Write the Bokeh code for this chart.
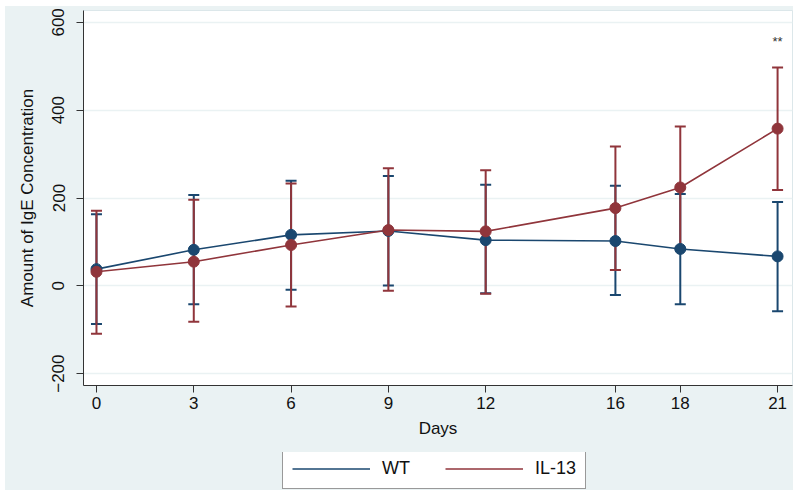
from bokeh.plotting import figure
from bokeh.layouts import column
from bokeh.models import (Range1d, Whisker, TeeHead, ColumnDataSource, Legend,
                          LegendItem, FixedTicker)
from bokeh.embed import file_html
from bokeh.resources import INLINE
from bokeh.core.properties import value

days = [0, 3, 6, 9, 12, 16, 18, 21]
wt_mean = [38, 82, 116, 125, 104, 102, 84, 67]
wt_upper = [163, 207, 239, 250, 230, 228, 209, 191]
wt_lower = [-87, -42, -9, 1, -17, -21, -42, -58]
il13_mean = [32, 55, 93, 127, 124, 177, 224, 358]
il13_upper = [171, 196, 233, 268, 263, 317, 363, 497]
il13_lower = [-109, -82, -47, -11, -18, 36, 85, 218]
y_ticks = [-200, 0, 200, 400, 600]
x_ticks = days
sig_day = [21]
sig_top = [il13_upper[-1]]
sig_text = ["**"]
series_names = ["WT", "IL-13"]

NAVY = "#1A476F"
MAROON = "#90353B"
BG = "#EAF2F3"
FONT = "Liberation Sans"

p = figure(width=788, height=446, output_backend="svg", toolbar_location=None,
           x_range=Range1d(-0.4, 21.46), y_range=Range1d(-227, 627),
           min_border_left=78, min_border_right=1, min_border_top=4,
           min_border_bottom=67)
p.background_fill_color = "white"
p.border_fill_color = BG
p.outline_line_color = "#DCE7EA"

p.xgrid.visible = False
p.ygrid.grid_line_color = BG
p.ygrid.grid_line_width = 1.5

for ax in (p.xaxis[0], p.yaxis[0]):
    ax.axis_line_color = "#333333"
    ax.major_tick_line_color = "#333333"
    ax.major_tick_out = 7
    ax.major_tick_in = 0
    ax.minor_tick_line_color = None
    ax.major_label_text_font = FONT
    ax.major_label_text_font_size = "17px"
    ax.major_label_text_color = "#111111"
    ax.axis_label_text_font = FONT
    ax.axis_label_text_font_size = "17px"
    ax.axis_label_text_font_style = "normal"
    ax.axis_label_text_color = "#111111"

p.xaxis.ticker = FixedTicker(ticks=x_ticks)
p.yaxis.ticker = FixedTicker(ticks=y_ticks)
p.xaxis.axis_label = "Days"
p.yaxis.axis_label = "Amount of IgE Concentration"
p.yaxis.major_label_orientation = "vertical"
p.xaxis.major_label_standoff = 4
p.xaxis.axis_label_standoff = 7
p.yaxis.major_label_standoff = 12
p.yaxis.axis_label_standoff = 13

wt_src = ColumnDataSource(dict(x=days, y=wt_mean, upper=wt_upper, lower=wt_lower))
il_src = ColumnDataSource(dict(x=days, y=il13_mean, upper=il13_upper, lower=il13_lower))

for src, col in ((wt_src, NAVY), (il_src, MAROON)):
    w = Whisker(source=src, base="x", upper="upper", lower="lower",
                line_color=col, line_width=2,
                upper_head=TeeHead(size=11, line_color=col, line_width=2),
                lower_head=TeeHead(size=11, line_color=col, line_width=2))
    p.add_layout(w)

p.line("x", "y", source=wt_src, line_color=NAVY, line_width=1.6)
p.scatter("x", "y", source=wt_src, size=11, fill_color=NAVY, line_color=NAVY)
p.line("x", "y", source=il_src, line_color=MAROON, line_width=1.6)
p.scatter("x", "y", source=il_src, size=11, fill_color=MAROON, line_color=MAROON)

p.text(x=sig_day, y=sig_top, text=sig_text, text_font=value(FONT),
       text_font_size="13px", text_color="#333333", text_align="center",
       text_baseline="middle", y_offset=-26)

# legend strip (its series renderers fall outside its own range, so only
# the legend glyphs are visible)
pl = figure(width=788, height=38, output_backend="svg", toolbar_location=None,
            x_range=Range1d(0, 1), y_range=Range1d(-1, 0),
            x_axis_type=None, y_axis_type=None, min_border=0)
pl.background_fill_color = BG
pl.border_fill_color = BG
pl.outline_line_color = None
pl.grid.visible = False
r_wt = pl.line(x="x", y="y", source=wt_src, line_color=NAVY, line_width=1.6)
r_il = pl.line(x="x", y="y", source=il_src, line_color=MAROON, line_width=1.6)
legend = Legend(items=[LegendItem(label=series_names[0], renderers=[r_wt]),
                       LegendItem(label=series_names[1], renderers=[r_il])],
                orientation="horizontal", location=(199, 1),
                border_line_color="#333333", border_line_width=1,
                background_fill_color="white", background_fill_alpha=1,
                label_text_font=FONT, label_text_font_size="18px",
                label_text_color="#111111",
                glyph_width=78, glyph_height=19, label_height=19,
                spacing=35, padding=9, label_standoff=12, margin=0)
pl.add_layout(legend, "center")

layout = column(p, pl, spacing=0)
layout.margin = (6, 0, 0, 5)
layout.styles = {"background-color": BG}

open("out.html", "w").write(file_html(layout, INLINE))
